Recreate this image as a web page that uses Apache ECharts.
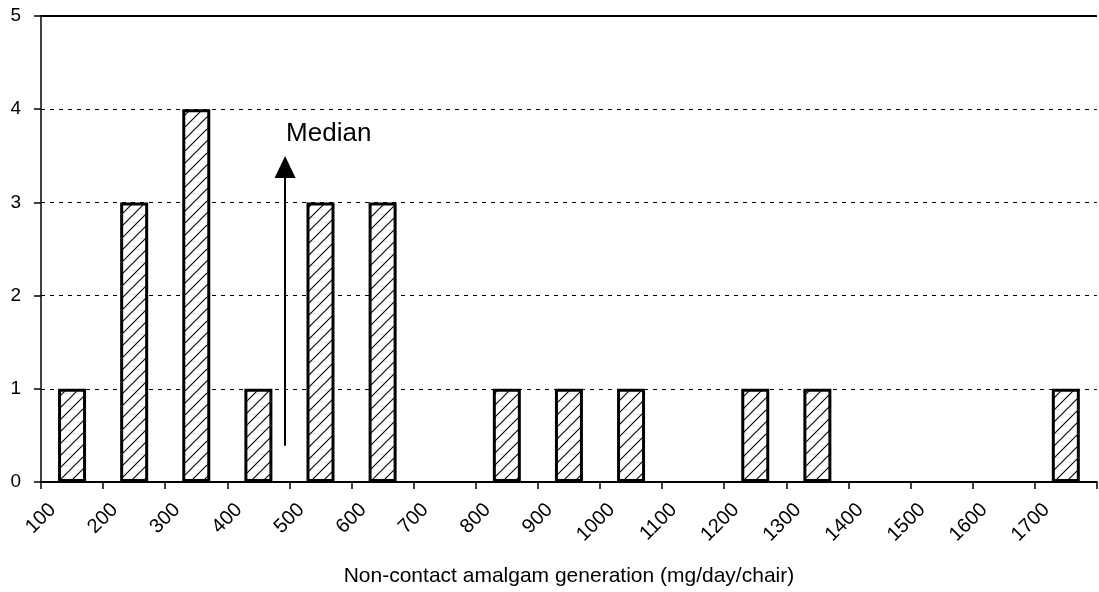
<!DOCTYPE html>
<html>
<head>
<meta charset="utf-8">
<script src="https://cdn.jsdelivr.net/npm/echarts@6/dist/echarts.min.js"></script>
<style>
html,body{margin:0;padding:0;background:#fff;overflow:hidden;}
#chart{width:1099px;height:592px;}
</style>
</head>
<body>
<div id="chart"></div>
<script>
// Histogram bins (lower edge, mg/day/chair) and counts
const binStarts = [100,200,300,400,500,600,700,800,900,1000,1100,1200,1300,1400,1500,1600,1700];
const counts    = [1,3,4,1,3,3,0,1,1,1,0,1,1,0,0,0,1];
const binWidth = 100;
const xTicks = {min:100, max:1800, interval:100};
const yTicks = {min:0, max:5, interval:1};
const medianValue = 493;
const medianArrow = [0.39, 3.38];
const medianLabelY = 3.74;
const xTitle = 'Non-contact amalgam generation (mg/day/chair)';

function hatchPattern(){
  const c = document.createElement('canvas');
  const s = 12;
  c.width = s; c.height = s;
  const g = c.getContext('2d');
  g.fillStyle = '#fff'; g.fillRect(0,0,s,s);
  g.strokeStyle = '#000'; g.lineWidth = 1.1;
  g.beginPath();
  g.moveTo(-1, s+1); g.lineTo(s+1, -1);
  g.moveTo(-1, 1); g.lineTo(1, -1);
  g.moveTo(s-1, s+1); g.lineTo(s+1, s-1);
  g.stroke();
  return c;
}

const barData = binStarts.map((b,i)=>[b+binWidth/2, counts[i]]).filter(d=>d[1]>0);

const chart = echarts.init(document.getElementById('chart'));
const font = 'Liberation Sans, Arial, sans-serif';
chart.setOption({
  animation:false,
  backgroundColor:'#fff',
  grid:{left:41, right:0, top:16, bottom:105, containLabel:false},
  xAxis:{
    type:'value', min:xTicks.min, max:xTicks.max, interval:xTicks.interval,
    axisLine:{show:true, onZero:false, lineStyle:{color:'#000', width:2}},
    axisTick:{show:true, inside:false, length:7, lineStyle:{color:'#000', width:1.5}},
    splitLine:{show:false},
    axisLabel:{color:'#000', fontFamily:font, fontSize:20, rotate:45, margin:13,
      align:'right', verticalAlign:'top', lineHeight:33,
      formatter:v=> v===xTicks.max ? '' : String(v)},
    name:xTitle, nameLocation:'middle', nameGap:84,
    nameTextStyle:{color:'#000', fontFamily:font, fontSize:21}
  },
  yAxis:{
    type:'value', min:yTicks.min, max:yTicks.max, interval:yTicks.interval,
    axisLine:{show:true, lineStyle:{color:'#000', width:1.5}},
    axisTick:{show:true, inside:false, length:7, lineStyle:{color:'#000', width:1.5}},
    splitLine:{show:true, lineStyle:{color:'#000', type:[4,5], width:1.2}},
    axisLabel:{color:'#000', fontFamily:font, fontSize:19, margin:20}
  },
  series:[
    {
      type:'bar', data:barData, barWidth:28,
      itemStyle:{color:{image:hatchPattern(), repeat:'repeat'}, borderColor:'#000', borderWidth:3},
      markLine:{
        silent:true, animation:false,
        symbol:'none',
        label:{show:false},
        data:[
          [{coord:[xTicks.min, yTicks.max], lineStyle:{color:'#000', width:2, type:'solid'}},
           {coord:[xTicks.max, yTicks.max]}],
          [{coord:[medianValue, medianArrow[0]], symbol:'none', lineStyle:{color:'#000', width:2, type:'solid'}},
           {coord:[medianValue, medianArrow[1]], symbol:'triangle', symbolSize:[21,22]}]
        ]
      },
      z:2
    },
    {
      type:'scatter', data:[[medianValue, medianLabelY]], symbolSize:0, silent:true,
      itemStyle:{color:'#000', opacity:1},
      label:{show:true, position:'right', distance:1, formatter:'Median', color:'#000', opacity:1,
        fontFamily:font, fontSize:26}
    }
  ]
});
</script>
</body>
</html>
